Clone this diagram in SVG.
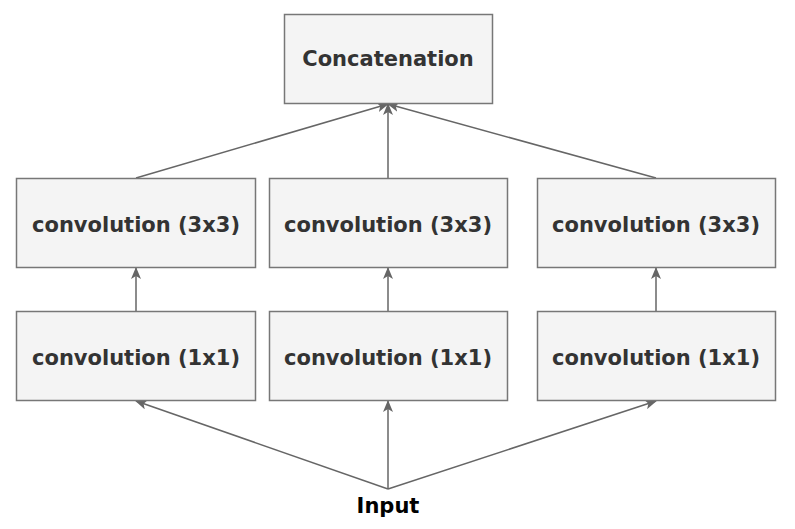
<svg xmlns="http://www.w3.org/2000/svg" width="795" height="529" viewBox="0 0 795 529">
<defs>
<style>
.box{fill:#f4f4f4;stroke:#777;stroke-width:1.5}
.lbl{font-family:"DejaVu Sans",Verdana,sans-serif;font-weight:bold;font-size:21px;fill:#333;text-anchor:middle;dominant-baseline:central}
.edge{stroke:#666;stroke-width:1.5;fill:none;marker-end:url(#ah)}
</style>
<marker id="ah" viewBox="0 0 12 10" refX="11" refY="5" markerWidth="12" markerHeight="10" markerUnits="userSpaceOnUse" orient="auto">
<path d="M0,0 L12,5 L0,10 L3,5 Z" fill="#666"/>
</marker>
</defs>
<rect width="795" height="529" fill="#ffffff"/>
<g id="connectors">
<line class="edge" x1="136" y1="178" x2="388" y2="104"/>
<line class="edge" x1="388" y1="178" x2="388" y2="104"/>
<line class="edge" x1="656" y1="178" x2="388" y2="104"/>
<line class="edge" x1="136" y1="311" x2="136" y2="268"/>
<line class="edge" x1="388" y1="311" x2="388" y2="268"/>
<line class="edge" x1="656" y1="311" x2="656" y2="268"/>
<line class="edge" x1="388" y1="489" x2="136" y2="401"/>
<line class="edge" x1="388" y1="489" x2="388" y2="401"/>
<line class="edge" x1="388" y1="489" x2="656" y2="401"/>
</g>
<g id="concat">
<rect class="box" x="284.5" y="14.5" width="208" height="89"/>
<text class="lbl" x="388" y="59">Concatenation</text>
</g>
<g id="conv3_1">
<rect class="box" x="16.5" y="178.5" width="239" height="89"/>
<text class="lbl" x="136" y="224.5">convolution (3x3)</text>
</g>
<g id="conv3_2">
<rect class="box" x="269.5" y="178.5" width="238" height="89"/>
<text class="lbl" x="388" y="224.5">convolution (3x3)</text>
</g>
<g id="conv3_3">
<rect class="box" x="537.5" y="178.5" width="238" height="89"/>
<text class="lbl" x="656" y="224.5">convolution (3x3)</text>
</g>
<g id="conv1_1">
<rect class="box" x="16.5" y="311.5" width="239" height="89"/>
<text class="lbl" x="136" y="357.5">convolution (1x1)</text>
</g>
<g id="conv1_2">
<rect class="box" x="269.5" y="311.5" width="238" height="89"/>
<text class="lbl" x="388" y="357.5">convolution (1x1)</text>
</g>
<g id="conv1_3">
<rect class="box" x="537.5" y="311.5" width="238" height="89"/>
<text class="lbl" x="656" y="357.5">convolution (1x1)</text>
</g>
<g id="input">
<text class="lbl" x="388" y="506" style="fill:#000">Input</text>
</g>
</svg>
